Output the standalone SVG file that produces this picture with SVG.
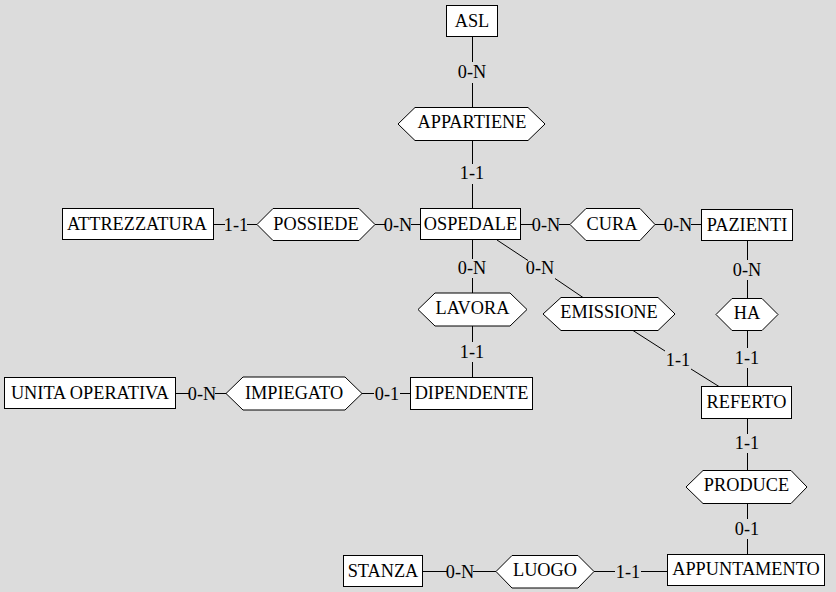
<svg xmlns="http://www.w3.org/2000/svg" width="836" height="592" viewBox="0 0 836 592">
<style>
.bg{fill:#dcdcdc}
.ent rect,.rel polygon{fill:#fff;stroke:#000;stroke-width:1}
text{font-family:"Liberation Serif","Times New Roman",serif;font-size:18.3px;fill:#000;text-anchor:middle}
#connectors line{stroke:#000;stroke-width:1}
</style>
<rect class="bg" x="0" y="0" width="836" height="592"/>
<g id="connectors">
<line x1="472.5" y1="37" x2="472.5" y2="62"/>
<line x1="472.5" y1="83" x2="472.5" y2="107"/>
<line x1="472.5" y1="141" x2="472.5" y2="164"/>
<line x1="472.5" y1="184" x2="472.5" y2="208"/>
<line x1="214" y1="224.5" x2="225" y2="224.5"/>
<line x1="247" y1="224.5" x2="257" y2="224.5"/>
<line x1="375" y1="224.5" x2="385" y2="224.5"/>
<line x1="411" y1="224.5" x2="420" y2="224.5"/>
<line x1="521" y1="224.5" x2="533" y2="224.5"/>
<line x1="559" y1="224.5" x2="570" y2="224.5"/>
<line x1="655" y1="224.5" x2="665" y2="224.5"/>
<line x1="691" y1="224.5" x2="701" y2="224.5"/>
<line x1="747.5" y1="241" x2="747.5" y2="260"/>
<line x1="747.5" y1="280" x2="747.5" y2="298"/>
<line x1="747.5" y1="331" x2="747.5" y2="348"/>
<line x1="747.5" y1="368" x2="747.5" y2="386"/>
<line x1="747.5" y1="419" x2="747.5" y2="434"/>
<line x1="747.5" y1="453" x2="747.5" y2="470"/>
<line x1="747.5" y1="504" x2="747.5" y2="519"/>
<line x1="747.5" y1="539" x2="747.5" y2="554"/>
<line x1="423" y1="571.5" x2="447" y2="571.5"/>
<line x1="473" y1="571.5" x2="496" y2="571.5"/>
<line x1="594" y1="571.5" x2="615" y2="571.5"/>
<line x1="641" y1="571.5" x2="667" y2="571.5"/>
<line x1="472.5" y1="240" x2="472.5" y2="259"/>
<line x1="472.5" y1="278" x2="472.5" y2="293"/>
<line x1="472.5" y1="326" x2="472.5" y2="342"/>
<line x1="472.5" y1="362" x2="472.5" y2="377"/>
<line x1="176" y1="393.5" x2="189" y2="393.5"/>
<line x1="215" y1="393.5" x2="226" y2="393.5"/>
<line x1="362" y1="393.5" x2="374" y2="393.5"/>
<line x1="400" y1="393.5" x2="410" y2="393.5"/>
<line x1="497" y1="240" x2="528" y2="260.5"/>
<line x1="555" y1="278.5" x2="583" y2="297.5"/>
<line x1="633" y1="330.5" x2="665" y2="351"/>
<line x1="691" y1="369" x2="719" y2="386.5"/>
<text x="472" y="78">0-N</text>
<text x="472" y="179">1-1</text>
<text x="236" y="230.5">1-1</text>
<text x="398" y="230.5">0-N</text>
<text x="546" y="230.5">0-N</text>
<text x="678" y="230.5">0-N</text>
<text x="747" y="276">0-N</text>
<text x="747" y="364">1-1</text>
<text x="747" y="449">1-1</text>
<text x="747" y="535">0-1</text>
<text x="460" y="577.5">0-N</text>
<text x="628" y="577.5">1-1</text>
<text x="472" y="274">0-N</text>
<text x="472" y="358">1-1</text>
<text x="202" y="399.5">0-N</text>
<text x="387" y="399.5">0-1</text>
<text x="540" y="274">0-N</text>
<text x="678" y="366">1-1</text>
</g>
<g id="asl" class="ent"><rect x="446.5" y="5.5" width="51" height="31"/><text x="472" y="27">ASL</text></g>
<g id="appartiene" class="rel"><polygon points="398,124 415,107.5 528,107.5 545,124 528,140.5 415,140.5"/><text x="472" y="127.5">APPARTIENE</text></g>
<g id="ospedale" class="ent"><rect x="420.5" y="208.5" width="100" height="31"/><text x="470.5" y="229.5">OSPEDALE</text></g>
<g id="attrezzatura" class="ent"><rect x="62.5" y="208.5" width="151" height="31"/><text x="137" y="229.5">ATTREZZATURA</text></g>
<g id="possiede" class="rel"><polygon points="257,224.5 273,208.5 359,208.5 375,224.5 359,240.5 273,240.5"/><text x="316" y="230">POSSIEDE</text></g>
<g id="cura" class="rel"><polygon points="570,224.5 586,208.5 640,208.5 655,224.5 640,240.5 586,240.5"/><text x="612" y="230">CURA</text></g>
<g id="pazienti" class="ent"><rect x="701.5" y="209.5" width="91" height="31"/><text x="747" y="230.5">PAZIENTI</text></g>
<g id="ha" class="rel"><polygon points="716,314.5 732,298.5 762,298.5 778,314.5 762,330.5 732,330.5"/><text x="747" y="318.5">HA</text></g>
<g id="referto" class="ent"><rect x="701.5" y="386.5" width="90" height="32"/><text x="746.5" y="407.5">REFERTO</text></g>
<g id="produce" class="rel"><polygon points="686,487 703,470.5 791,470.5 807,487 791,503.5 703,503.5"/><text x="746.5" y="491">PRODUCE</text></g>
<g id="appuntamento" class="ent"><rect x="667.5" y="554.5" width="157" height="31"/><text x="746" y="575">APPUNTAMENTO</text></g>
<g id="luogo" class="rel"><polygon points="496,571.5 512,555.5 578,555.5 594,571.5 578,588 512,588"/><text x="545" y="575.5">LUOGO</text></g>
<g id="stanza" class="ent"><rect x="343.5" y="555.5" width="79" height="31"/><text x="383" y="576.5">STANZA</text></g>
<g id="lavora" class="rel"><polygon points="418,309.5 435,293 510,293 527,309.5 510,326 435,326"/><text x="472.5" y="313.5">LAVORA</text></g>
<g id="dipendente" class="ent"><rect x="410.5" y="377.5" width="122" height="32"/><text x="471.5" y="398.5">DIPENDENTE</text></g>
<g id="unita-operativa" class="ent"><rect x="4.5" y="377.5" width="171" height="31"/><text x="90" y="398.5">UNITA OPERATIVA</text></g>
<g id="impiegato" class="rel"><polygon points="226,393.5 243,377 345,377 362,393.5 345,410 243,410"/><text x="294" y="399">IMPIEGATO</text></g>
<g id="emissione" class="rel"><polygon points="543,314 561,297.5 658,297.5 675,314 658,330.5 561,330.5"/><text x="609" y="318">EMISSIONE</text></g>
</svg>
